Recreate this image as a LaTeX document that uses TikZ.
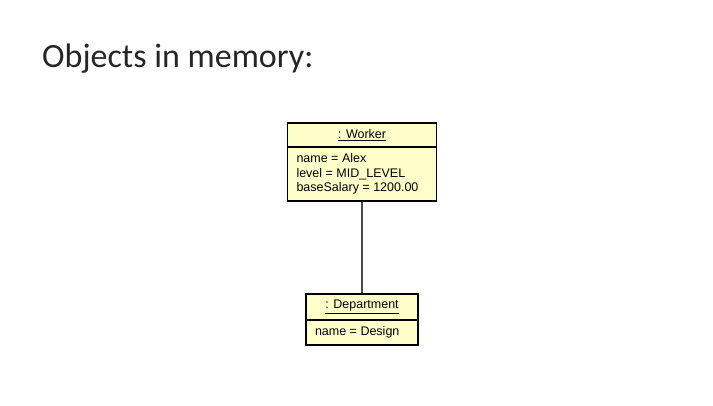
\documentclass[tikz,border=0pt]{standalone}
\usepackage{fontspec}
\setmainfont{Liberation Sans}
\newfontfamily\titlefont{Carlito}
\usetikzlibrary{shapes.multipart, positioning}
\definecolor{objfill}{RGB}{255,255,204}

\begin{document}
\begin{tikzpicture}[
    x=1pt, y=-1pt,
    title/.style={font=\titlefont\fontsize{34}{38}\selectfont, text=black!85, anchor=base west, inner sep=0pt},
    object/.style={draw, line width=1.6pt, fill=objfill, rectangle split, rectangle split parts=2,
                   rectangle split part align={center, left}, inner xsep=9pt, inner ysep=5.8pt,
                   font=\fontsize{12.5}{14.5}\selectfont, align=left},
    link/.style={draw=black!70, line width=1.2pt}
]
\useasboundingbox (0,0) rectangle (713,406);
\node[title] (heading) at (42,68) {Objects in memory:};
\node[object, minimum width=149pt] (worker) at (362,162)
    {\underline{: Worker}
     \nodepart{two} name = Alex\\level = MID\_LEVEL\\baseSalary = 1200.00};
\node[object, minimum width=112pt, below=91pt of worker] (dept)
    {\underline{: Department}
     \nodepart{two} name = Design};
\draw[link] (worker) -- (dept);
\end{tikzpicture}
\end{document}
